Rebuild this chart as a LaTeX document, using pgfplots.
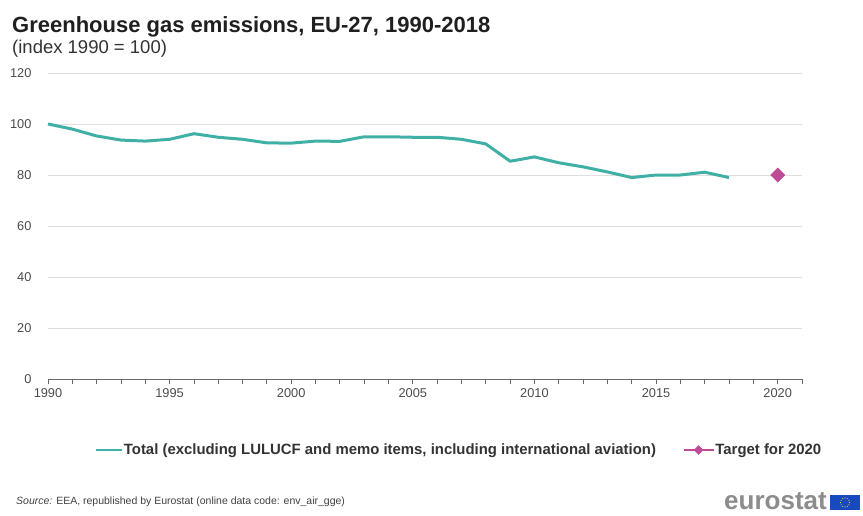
\documentclass[border=0pt]{standalone}
\usepackage{fontspec}
\setmainfont{Liberation Sans}
\usepackage{pgfplots}
\pgfplotsset{compat=1.18}

\definecolor{esteal}{RGB}{64,176,166}
\definecolor{esmag}{RGB}{190,75,150}
\definecolor{gridc}{RGB}{222,222,222}
\definecolor{axisc}{RGB}{105,105,105}
\definecolor{tickc}{RGB}{75,75,75}
\definecolor{esblue}{RGB}{22,74,190}
\definecolor{esyellow}{RGB}{255,221,40}

% Greenhouse gas emissions index, EU-27 (1990 = 100)
\pgfplotstableread{
year  index
1990  100.0
1991   98.0
1992   95.3
1993   93.7
1994   93.3
1995   94.0
1996   96.2
1997   94.8
1998   94.0
1999   92.6
2000   92.5
2001   93.3
2002   93.2
2003   95.0
2004   95.0
2005   94.8
2006   94.8
2007   94.0
2008   92.2
2009   85.4
2010   87.1
2011   84.8
2012   83.2
2013   81.2
2014   79.0
2015   80.0
2016   80.0
2017   81.1
2018   79.0
}\ghgdata

\begin{document}
\begin{tikzpicture}
\useasboundingbox (0,0) rectangle (863pt,-515pt);

\node[anchor=base west, inner sep=0, font=\fontsize{22}{26}\selectfont\bfseries, text=black!88]
  at (12pt,-32pt) {Greenhouse gas emissions, EU-27, 1990-2018};
\node[anchor=base west, inner sep=0, font=\fontsize{18.5}{22}\selectfont, text=black!80]
  at (12pt,-53pt) {(index 1990 = 100)};

\begin{axis}[
  at={(48pt,-379pt)}, anchor=south west,
  scale only axis, width=754pt, height=306pt,
  xmin=1990, xmax=2021, ymin=0, ymax=120,
  xtick={1990,1995,...,2020},
  minor xtick={1990,...,2021},
  ytick={0,20,...,120},
  axis x line*=bottom, axis y line*=left,
  x axis line style={axisc, line width=0.8pt, -},
  y axis line style={draw=none},
  ytick style={draw=none},
  xtick style={axisc, line width=0.8pt},
  tick align=outside,
  major tick length=5pt, minor tick length=5pt,
  ymajorgrids, grid style={gridc, line width=0.9pt},
  /pgf/number format/assume math mode=true,
  /pgf/number format/1000 sep={},
  tick label style={font=\fontsize{12.8}{14}\selectfont, text=tickc},
  yticklabel style={xshift=-8pt},
  xticklabel style={yshift=-1pt},
  clip=false,
  legend columns=2,
  legend style={at={(0.058,-0.232)}, anchor=west, draw=none, fill=none,
    font=\fontsize{14.9}{17}\selectfont\bfseries, text=black!80,
    /tikz/every even column/.append style={column sep=26pt},
    nodes={inner sep=0.5pt}},
]
\addplot[esteal, line width=3pt, line join=round,
  legend image code/.code={\draw[esteal, line width=2.5pt] (0pt,0pt) -- (26pt,0pt);}]
  table[x=year, y=index] {\ghgdata};
\addlegendentry{Total (excluding LULUCF and memo items, including international aviation)}

\addplot[only marks, mark=square*, mark size=5pt,
  mark options={rotate=45, fill=esmag, draw=esmag},
  legend image code/.code={
    \draw[esmag, line width=2.5pt] (0pt,0pt) -- (30pt,0pt);
    \fill[esmag] (15pt,0pt) +(-4.5pt,0pt) -- +(0pt,4.5pt) -- +(4.5pt,0pt) -- +(0pt,-4.5pt) -- cycle;}]
  coordinates {(2020,80)};
\addlegendentry{Target for 2020}
\end{axis}

\node[anchor=base west, inner sep=0, font=\fontsize{10.5}{12}\selectfont, text=black!75]
  at (16pt,-504pt) {\textit{Source:} EEA, republished by Eurostat (online data code: env\_air\_gge)};

% eurostat logo
\node[anchor=base east, inner sep=0, font=\fontsize{26}{28}\selectfont\bfseries, text=black!45]
  at (827pt,-509pt) {eurostat};
\fill[esblue] (830pt,-495pt) rectangle (860pt,-510pt);
\foreach \a in {0,30,...,330}
  \fill[esyellow] (845pt,-502.5pt) ++(\a:4.5pt) circle (0.6pt);
\end{tikzpicture}
\end{document}
